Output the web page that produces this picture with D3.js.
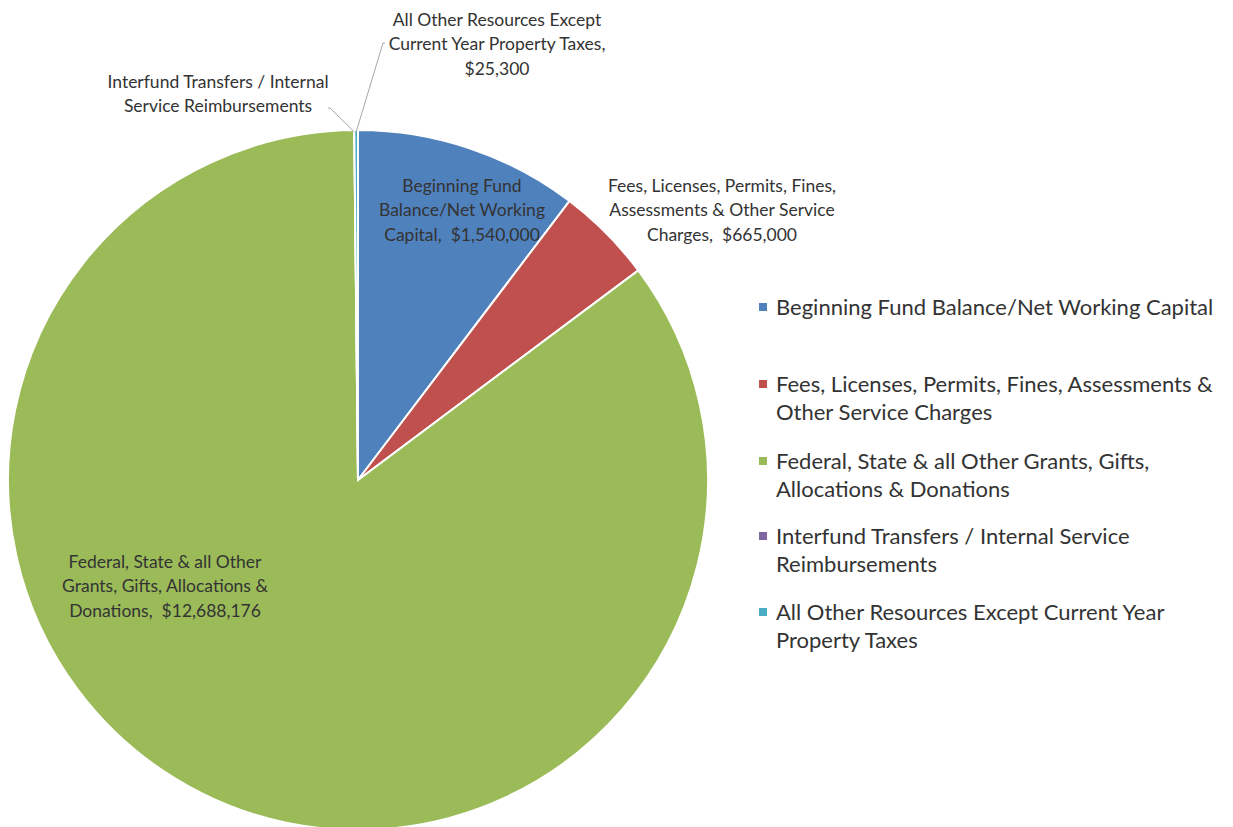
<!DOCTYPE html>
<html>
<head>
<meta charset="utf-8">
<script src="https://cdn.jsdelivr.net/npm/d3@7"></script>
<style>
body { margin: 0; background: #fff; }
text { font-family: Lato, "Open Sans", sans-serif; fill: #333; white-space: pre; }
</style>
</head>
<body>
<svg></svg>
<script>
var categories = [
    "Beginning Fund Balance/Net Working Capital",
    "Fees, Licenses, Permits, Fines, Assessments & Other Service Charges",
    "Federal, State & all Other Grants, Gifts, Allocations & Donations",
    "Interfund Transfers / Internal Service Reimbursements",
    "All Other Resources Except Current Year Property Taxes"
];
var values = [1540000, 665000, 12688176, 0, 25300];
var colors = ["#4F81BD", "#C0504D", "#9BBB59", "#8064A2", "#4BACC6"];

// wrapped text for the data labels and the legend
var labelLines = [
    ["Beginning Fund", "Balance/Net Working", "Capital,  $1,540,000"],
    ["Fees, Licenses, Permits, Fines,", "Assessments & Other Service", "Charges,  $665,000"],
    ["Federal, State & all Other", "Grants, Gifts, Allocations &", "Donations,  $12,688,176"],
    ["Interfund Transfers / Internal", "Service Reimbursements"],
    ["All Other Resources Except", "Current Year Property Taxes,", "$25,300"]
];
var legendLines = [
    ["Beginning Fund Balance/Net Working Capital"],
    ["Fees, Licenses, Permits, Fines, Assessments &", "Other Service Charges"],
    ["Federal, State & all Other Grants, Gifts,", "Allocations & Donations"],
    ["Interfund Transfers / Internal Service", "Reimbursements"],
    ["All Other Resources Except Current Year", "Property Taxes"]
];

var screen = {width: 1233, height: 827};
var center = {x: 358, y: 480};
var radius = 350;

// label box centres, offset from the pie centre
var labelPos = [
    {dx: 104, dy: -270},
    {dx: 364, dy: -270},
    {dx: -193, dy: 106},
    {dx: -140, dy: -386},
    {dx: 139, dy: -436}
];

var svg = d3.select("svg")
    .attr("width", screen.width)
    .attr("height", screen.height);

var pie = d3.pie().sort(null).value(function(d){ return d; });
var arcs = pie(values);
var arc = d3.arc().innerRadius(0).outerRadius(radius);

var g = svg.append("g")
    .attr("transform", "translate(" + center.x + "," + center.y + ")");

g.selectAll("path")
    .data(arcs)
    .enter()
    .append("path")
    .attr("d", arc)
    .attr("fill", function(d, i){ return colors[i]; })
    .attr("stroke", "#fff")
    .attr("stroke-width", 2);

// leader lines for the two thin slices
var edge = d3.arc().innerRadius(radius - 2).outerRadius(radius - 2);
var leaders = [
    {i: 3, to: [-28, -372]},
    {i: 4, to: [25, -437]}
];
g.selectAll(".leader")
    .data(leaders)
    .enter()
    .append("polyline")
    .attr("class", "leader")
    .attr("fill", "none")
    .attr("stroke", "#a6a6a6")
    .attr("stroke-width", 1)
    .attr("points", function(d)
    {
        var c = edge.centroid(arcs[d.i]);
        var end = d.i == 3 ? [d.to[0] - 2, d.to[1]] : [d.to[0] + 2, d.to[1]];
        return [c, d.to, end].map(function(p){ return p.join(","); }).join(" ");
    });

var lh = 24.5;
labelLines.forEach(function(lines, i)
{
    var t = g.append("text")
        .attr("text-anchor", "middle")
        .attr("font-size", 17.5)
        .attr("x", labelPos[i].dx)
        .attr("y", labelPos[i].dy - (lines.length - 1) * lh / 2);
    lines.forEach(function(s, k)
    {
        t.append("tspan")
            .attr("x", labelPos[i].dx)
            .attr("dy", k == 0 ? "0.35em" : lh)
            .text(s);
    });
});

// legend
var legendY = d3.scalePoint()
    .domain(d3.range(categories.length))
    .range([307, 612]);
var legendLh = 28;
var legend = svg.append("g").attr("id", "legend");
categories.forEach(function(c, i)
{
    var y = legendY(i);
    if (i == 1) y = 384;
    if (i == 2) y = 461;
    if (i == 3) y = 536;
    legend.append("rect")
        .attr("x", 759)
        .attr("y", y - 4)
        .attr("width", 8)
        .attr("height", 8)
        .attr("fill", colors[i]);
    var t = legend.append("text")
        .attr("font-size", 22)
        .attr("x", 776)
        .attr("y", y);
    legendLines[i].forEach(function(s, k)
    {
        t.append("tspan")
            .attr("x", 776)
            .attr("dy", k == 0 ? "0.35em" : legendLh)
            .text(s);
    });
});
</script>
</body>
</html>
